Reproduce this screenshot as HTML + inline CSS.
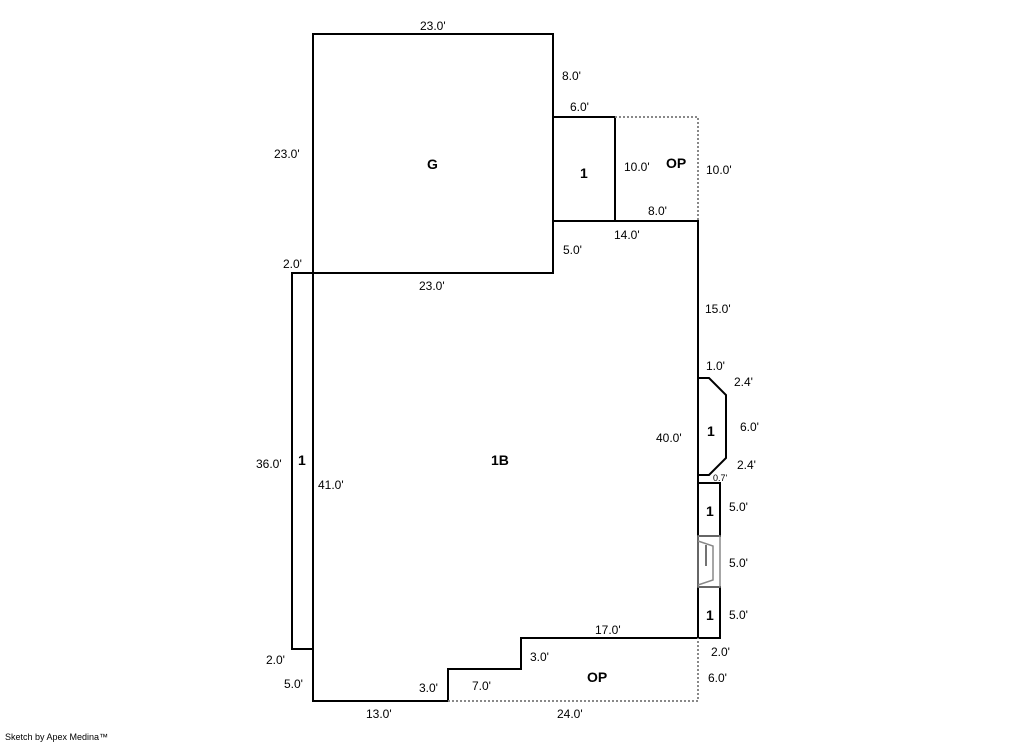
<!DOCTYPE html>
<html><head><style>body{margin:0;background:#fff}</style></head><body>
<svg width="1013" height="743" xmlns="http://www.w3.org/2000/svg" font-family="Liberation Sans, sans-serif" font-size="12">
<g fill="none" stroke="#000" stroke-width="2">
<rect x="313" y="34" width="240" height="239"/>
<rect x="553" y="117" width="62" height="104"/>
<polyline points="553,221 698,221 698,638 521,638 521,669 448,669 448,701 313,701 313,273"/>
<rect x="292" y="273" width="21" height="376"/>
<polyline points="698,378 709,378 726,395 726,458 709,475 698,475"/>
<rect x="698" y="483" width="22" height="53"/>
<rect x="698" y="587" width="22" height="51"/>
</g>
<g fill="none" stroke="#888" stroke-width="1.5">
<rect x="698" y="536" width="22" height="51"/>
<polyline points="698,541 713,546 713,580 698,585"/>
<line x1="706" y1="545" x2="706" y2="566" stroke="#444"/>
</g>
<g fill="none" stroke="#888" stroke-width="2" stroke-dasharray="2,2">
<polyline points="615,117 698,117 698,221"/>
<polyline points="448,701 698,701 698,638"/>
</g>
<g fill="#000">
<text x="420" y="30">23.0'</text>
<text x="562" y="80">8.0'</text>
<text x="570" y="111">6.0'</text>
<text x="274" y="158">23.0'</text>
<text x="624" y="171">10.0'</text>
<text x="706" y="174">10.0'</text>
<text x="648" y="215">8.0'</text>
<text x="614" y="239">14.0'</text>
<text x="563" y="254">5.0'</text>
<text x="283" y="268">2.0'</text>
<text x="419" y="290">23.0'</text>
<text x="705" y="313">15.0'</text>
<text x="706" y="370">1.0'</text>
<text x="734" y="386">2.4'</text>
<text x="740" y="431">6.0'</text>
<text x="656" y="442">40.0'</text>
<text x="737" y="469">2.4'</text>
<text x="713" y="481" font-size="9">0.7'</text>
<text x="729" y="511">5.0'</text>
<text x="256" y="468">36.0'</text>
<text x="318" y="489">41.0'</text>
<text x="729" y="567">5.0'</text>
<text x="729" y="619">5.0'</text>
<text x="595" y="634">17.0'</text>
<text x="530" y="661">3.0'</text>
<text x="711" y="656">2.0'</text>
<text x="266" y="664">2.0'</text>
<text x="708" y="682">6.0'</text>
<text x="284" y="688">5.0'</text>
<text x="472" y="690">7.0'</text>
<text x="419" y="692">3.0'</text>
<text x="366" y="718">13.0'</text>
<text x="557" y="718">24.0'</text>
</g>
<g font-size="14" font-weight="bold" fill="#000">
<text x="427" y="169">G</text>
<text x="580" y="178">1</text>
<text x="666" y="168">OP</text>
<text x="491" y="465">1B</text>
<text x="298" y="465">1</text>
<text x="707" y="436">1</text>
<text x="706" y="516">1</text>
<text x="706" y="620">1</text>
<text x="587" y="682">OP</text>
</g>
<text x="5" y="740" font-size="9">Sketch by Apex Medina™</text>
</svg>
</body></html>
